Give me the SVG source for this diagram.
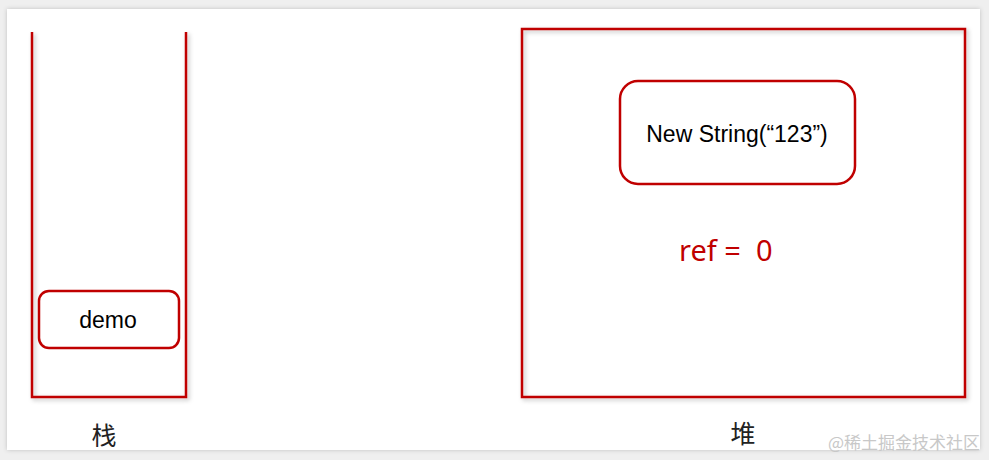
<svg xmlns="http://www.w3.org/2000/svg" width="989" height="460" viewBox="0 0 989 460">
  <defs>
    <filter id="sh" x="-10%" y="-10%" width="130%" height="130%">
      <feDropShadow dx="2" dy="2" stdDeviation="2" flood-color="#000" flood-opacity="0.25"/>
    </filter>
    <filter id="card" x="-5%" y="-5%" width="110%" height="110%">
      <feDropShadow dx="0" dy="0" stdDeviation="2" flood-color="#000" flood-opacity="0.2"/>
    </filter>
  </defs>
  <style>
    .frame { fill: none; stroke: #c00000; stroke-width: 2.5; }
    .box { fill: #ffffff; stroke: #c00000; stroke-width: 2.5; }
    .lbl { font-family: "Liberation Sans", Arial, sans-serif; fill: #000; text-anchor: middle; }
    .cjk { font-family: "Noto Sans CJK SC", sans-serif; fill: #222; text-anchor: middle; }
  </style>
  <rect x="0" y="0" width="989" height="460" fill="#efefef"/>
  <rect x="7" y="9" width="973" height="441" fill="#ffffff" filter="url(#card)"/>

  <g id="stack">
    <path class="frame" d="M32,32 V397 H186 V32" filter="url(#sh)"/>
    <text class="cjk" x="104" y="445" font-size="25">栈</text>
  </g>
  <g id="demo">
    <rect class="box" x="39" y="291" width="140" height="57" rx="10"/>
    <text class="lbl" x="108" y="328" font-size="23">demo</text>
  </g>

  <g id="heap">
    <rect class="frame" x="522" y="29" width="443" height="368" filter="url(#sh)"/>
    <text class="cjk" x="743" y="443" font-size="25">堆</text>
  </g>
  <g id="newstring">
    <rect class="box" x="620" y="81" width="235" height="103" rx="18"/>
    <text class="lbl" x="737" y="142" font-size="23">New String(“123”)</text>
  </g>
  <g id="ref">
    <text x="679" y="261" font-family="'Noto Sans', 'Liberation Sans', sans-serif" font-size="29" fill="#c00000" xml:space="preserve">ref =  0</text>
  </g>

  <g id="connectors"></g>

  <text x="980" y="449" text-anchor="end" font-family="'Noto Sans CJK SC', sans-serif" font-size="17" fill="#c8c8c8">@稀土掘金技术社区</text>
</svg>
